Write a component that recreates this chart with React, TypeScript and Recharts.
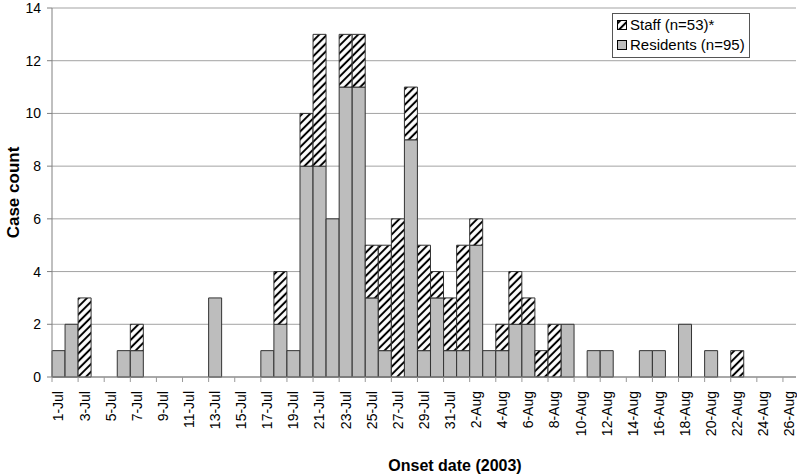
import { BarChart, Bar, XAxis, YAxis, CartesianGrid, Legend } from 'recharts'

const dates = [
  '1-Jul', '2-Jul', '3-Jul', '4-Jul', '5-Jul', '6-Jul', '7-Jul', '8-Jul', '9-Jul', '10-Jul',
  '11-Jul', '12-Jul', '13-Jul', '14-Jul', '15-Jul', '16-Jul', '17-Jul', '18-Jul', '19-Jul', '20-Jul',
  '21-Jul', '22-Jul', '23-Jul', '24-Jul', '25-Jul', '26-Jul', '27-Jul', '28-Jul', '29-Jul', '30-Jul',
  '31-Jul', '1-Aug', '2-Aug', '3-Aug', '4-Aug', '5-Aug', '6-Aug', '7-Aug', '8-Aug', '9-Aug',
  '10-Aug', '11-Aug', '12-Aug', '13-Aug', '14-Aug', '15-Aug', '16-Aug', '17-Aug', '18-Aug', '19-Aug',
  '20-Aug', '21-Aug', '22-Aug', '23-Aug', '24-Aug', '25-Aug', '26-Aug',
]

const residents = [
  1, 2, 0, 0, 0, 1, 1, 0, 0, 0,
  0, 0, 3, 0, 0, 0, 1, 2, 1, 8,
  8, 6, 11, 11, 3, 1, 0, 9, 1, 3,
  1, 1, 5, 1, 1, 2, 2, 0, 0, 2,
  0, 1, 1, 0, 0, 1, 1, 0, 2, 0,
  1, 0, 0, 0, 0, 0, 0,
]

const staff = [
  0, 0, 3, 0, 0, 0, 1, 0, 0, 0,
  0, 0, 0, 0, 0, 0, 0, 2, 0, 2,
  5, 0, 2, 2, 2, 4, 6, 2, 4, 1,
  2, 4, 1, 0, 1, 2, 1, 1, 2, 0,
  0, 0, 0, 0, 0, 0, 0, 0, 0, 0,
  0, 0, 1, 0, 0, 0, 0,
]

const yTicks = [0, 2, 4, 6, 8, 10, 12, 14]

const FONT = '"Liberation Sans", Arial, sans-serif'
const W = 797
const H = 474
const Y_AXIS_W = 52
const RIGHT = 1
const HALF_BAND = (W - Y_AXIS_W - RIGHT) / dates.length / 2

const data = dates.map((d, i) => ({ date: d, residents: residents[i], staff: staff[i] }))

// eslint-disable-next-line @typescript-eslint/no-explicit-any
function DateTick({ x, y, payload }: any) {
  const lx = x - HALF_BAND
  const ty = y + 6
  return (
    <g>
      <line x1={lx} x2={lx} y1={y - 8} y2={y - 3} stroke="#999" />
      <text
        x={x}
        y={ty}
        transform={`rotate(-90, ${x}, ${ty})`}
        textAnchor="end"
        dy="0.35em"
        fontSize={14}
        fontFamily={FONT}
        fill="#000"
      >
        {payload.value}
      </text>
    </g>
  )
}

function LegendBox() {
  return (
    <div
      style={{
        border: '1px solid #555',
        background: '#fff',
        padding: '1px 4px 2px 4px',
        fontFamily: FONT,
        fontSize: 15,
        lineHeight: '20px',
        color: '#000',
      }}
    >
      <div style={{ display: 'flex', alignItems: 'center', gap: 3 }}>
        <svg width={10} height={10}>
          <rect x={0.5} y={0.5} width={9} height={9} fill="url(#hatch)" stroke="#000" />
        </svg>
        Staff (n=53)*
      </div>
      <div style={{ display: 'flex', alignItems: 'center', gap: 3 }}>
        <svg width={10} height={10}>
          <rect x={0.5} y={0.5} width={9} height={9} fill="#bdbdbd" stroke="#000" />
        </svg>
        Residents (n=95)
      </div>
    </div>
  )
}

export default function App() {
  return (
    <div style={{ position: 'absolute', left: 0, top: 0, width: W, height: H, background: '#fff' }}>
      <BarChart
        width={W}
        height={H}
        data={data}
        margin={{ top: 8, right: RIGHT, bottom: 0, left: 0 }}
        barCategoryGap={0}
        barGap={0}
      >
        <defs>
          <pattern id="hatch" patternUnits="userSpaceOnUse" width="5.5" height="5.5" patternTransform="rotate(45)">
            <rect width="5.5" height="5.5" fill="#fff" />
            <line x1="2.75" y1="0" x2="2.75" y2="5.5" stroke="#000" strokeWidth="2" />
          </pattern>
        </defs>
        <CartesianGrid vertical={false} stroke="#a3a3a3" />
        <XAxis
          dataKey="date"
          interval={1}
          height={97}
          tick={<DateTick />}
          tickLine={false}
          axisLine={{ stroke: '#808080' }}
          label={{
            value: 'Onset date (2003)',
            position: 'insideBottom',
            offset: 3,
            dx: 31,
            style: { fontFamily: FONT, fontSize: 16, fontWeight: 'bold', fill: '#000' },
          }}
        />
        <YAxis
          width={Y_AXIS_W}
          domain={[0, 14]}
          ticks={yTicks}
          interval={0}
          tickSize={5}
          tickMargin={6}
          tickLine={{ stroke: '#808080' }}
          axisLine={{ stroke: '#808080' }}
          tick={{ fontSize: 14, fill: '#000', fontFamily: FONT }}
          label={{
            value: 'Case count',
            angle: -90,
            position: 'insideLeft',
            offset: 13,
            style: { textAnchor: 'middle', fontFamily: FONT, fontSize: 17, fontWeight: 'bold', fill: '#000' },
          }}
        />
        <Legend
          layout="horizontal"
          verticalAlign="middle"
          align="center"
          content={<LegendBox />}
          wrapperStyle={{ position: 'absolute', top: 13, left: 612, width: 'auto' }}
        />
        <Bar dataKey="residents" stackId="a" fill="#bdbdbd" stroke="#333" strokeWidth={1} isAnimationActive={false} />
        <Bar dataKey="staff" stackId="a" fill="url(#hatch)" stroke="#333" strokeWidth={1} isAnimationActive={false} />
      </BarChart>
    </div>
  )
}
